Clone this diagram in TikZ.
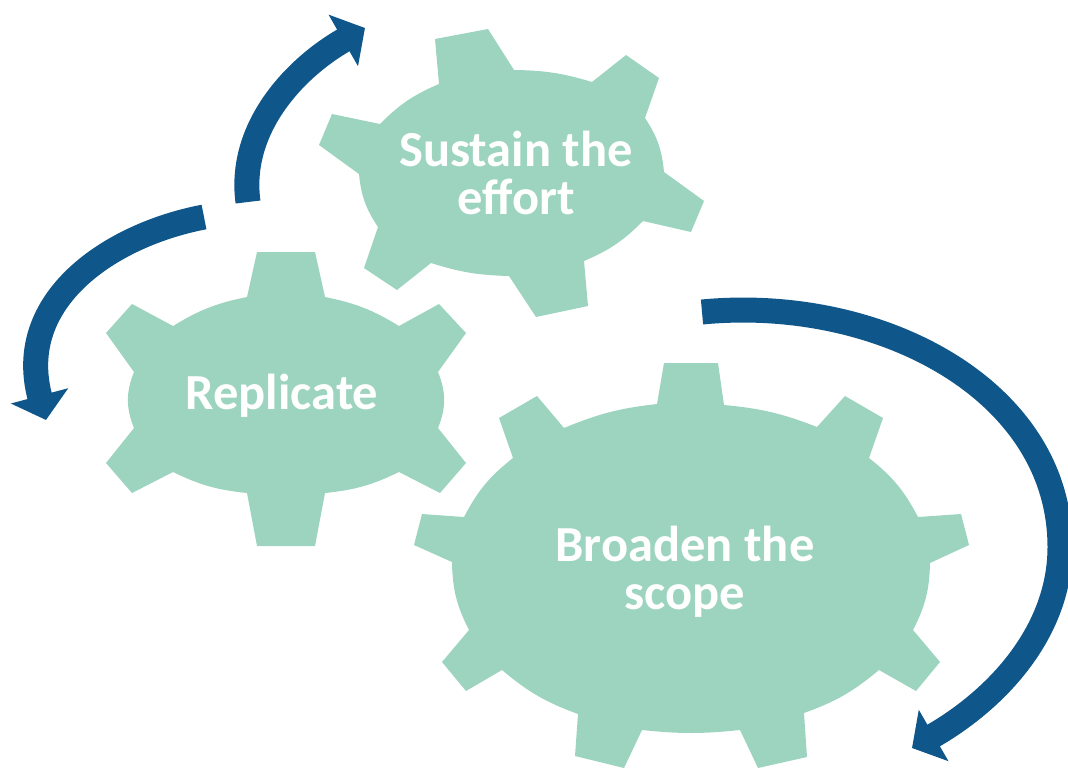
\documentclass[tikz,border=0pt]{standalone}
\usepackage{fontspec}
\setmainfont{Carlito}
\usetikzlibrary{arrows.meta}
\definecolor{gearcolor}{HTML}{9CD4C0}
\definecolor{loopcolor}{HTML}{0F578A}
\tikzset{
  gear/.style={fill=gearcolor, draw=none},
  geartext/.style={text=white, align=center, font=\fontsize{50.5}{48}\selectfont\bfseries, inner sep=0pt},
  looparrow/.style={draw=loopcolor, line width=25pt, -{Triangle[length=25pt,width=58pt]}}
}

\begin{document}
\begin{tikzpicture}[x=1pt,y=-1pt]
\useasboundingbox (0,0) rectangle (1068,769);
%gears
%replicate
\filldraw[gear] (257,252) -- (315,252) -- (325,297) to[bend left=10] (399,326)
  -- (439,304) -- (466,333) -- (438,372) to[bend left=22] (438,428)
  -- (466,463) -- (440,493) -- (399,472) to[bend left=10] (325,493)
  -- (315,546) -- (257,546) -- (247,493) to[bend left=10] (173,472)
  -- (132,493) -- (106,463) -- (134,428) to[bend left=22] (134,372)
  -- (106,333) -- (132,304) -- (173,326) to[bend left=10] (247,297) -- cycle;
%sustain
\filldraw[gear] (435,39) -- (488,29) -- (514,70) to[bend left=8] (592,82)
  -- (626,55) -- (659,78) -- (645,118) to[bend left=14] (664,172)
  -- (704,201) -- (691,232) -- (643,221) to[bend left=11] (584,261)
  -- (588,306) -- (536,317) -- (509,276) to[bend left=8] (431,263)
  -- (397,290) -- (364,268) -- (378,227) to[bend left=14] (359,174)
  -- (319,145) -- (332,114) -- (380,124) to[bend left=11] (439,84) -- cycle;
%broaden
\filldraw[gear] (664,363) -- (718,363) -- (724,405) to[bend left=8] (817,427)
  -- (845,396) -- (883,418) -- (869,458) to[bend left=12] (918,517)
  -- (961,514) -- (969,545) -- (930,563) to[bend left=13] (913,630)
  -- (940,662) -- (916,691) -- (879,670) to[bend left=10] (804,713)
  -- (807,757) -- (758,768) -- (740,730) to[bend left=6] (642,730)
  -- (624,768) -- (575,756) -- (578,714) to[bend left=10] (502,670)
  -- (466,691) -- (442,662) -- (469,630) to[bend left=13] (452,562)
  -- (414,545) -- (422,514) -- (464,517) to[bend left=12] (513,458)
  -- (499,418) -- (537,396) -- (564,428) to[bend left=8] (657,404) -- cycle;
%labels
\node[geartext] (replicate) at (282,396) {Replicate};
\node[geartext] (sustain) at (516,173) {Sustain the\\effort};
\node[geartext] (broaden) at (685,572) {Broaden the\\scope};
%loop ends
\coordinate (replicatestart) at (204,217);
\coordinate (replicateend) at (46,420);
\coordinate (sustainstart) at (248,202);
\coordinate (sustainend) at (365,28);
\coordinate (broadenstart) at (702,312);
\coordinate (broadenmid) at (1060,547);
\coordinate (broadenend) at (912,748);
%arrows
\draw[looparrow] (replicatestart) .. controls (110,235) and (14,300) .. (replicateend);
\draw[looparrow] (sustainstart) .. controls (238,128) and (295,68) .. (sustainend);
\draw[looparrow] (broadenstart) .. controls (880,295) and (1060,390) .. (broadenmid)
  .. controls (1060,628) and (1002,696) .. (broadenend);
\end{tikzpicture}
\end{document}
